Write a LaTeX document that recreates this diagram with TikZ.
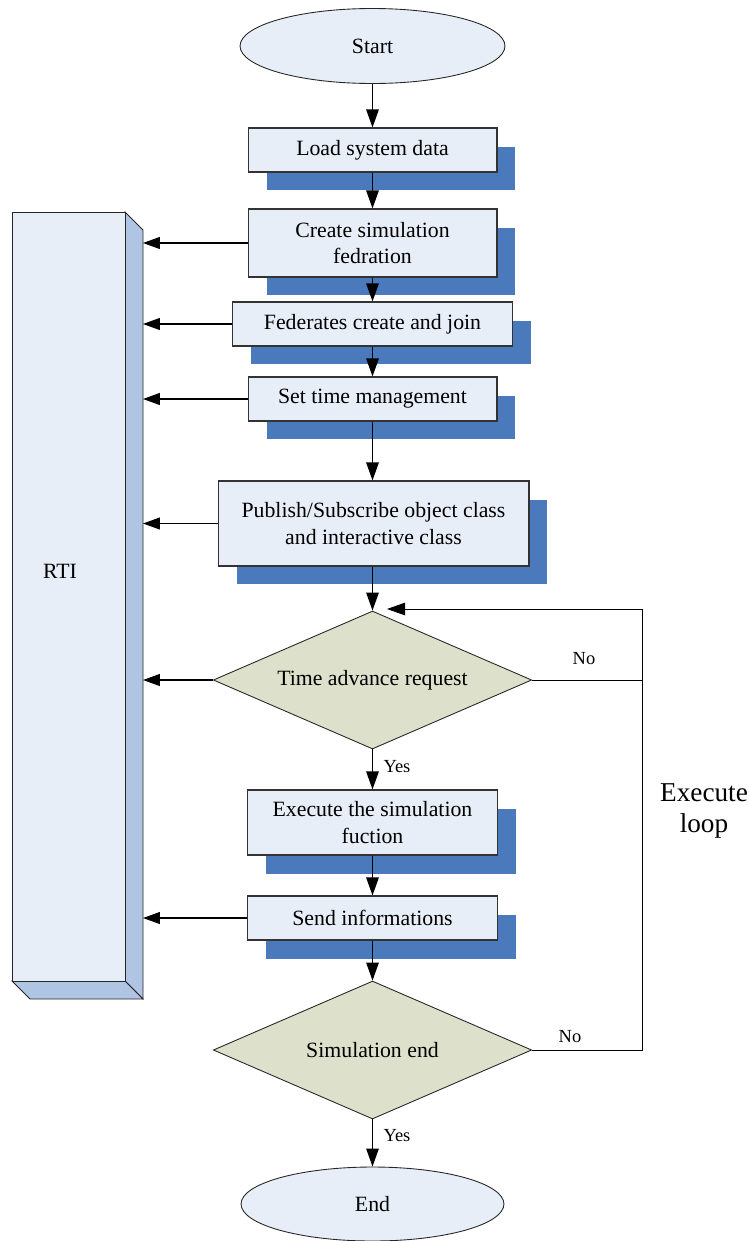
\documentclass[tikz,border=0pt]{standalone}
\usepackage{fontspec}
\setmainfont{Liberation Serif}
\usepackage{xcolor}
\usepackage{tikz}
\usetikzlibrary{positioning,calc,shapes.geometric,shadows,arrows.meta}

\definecolor{boxfill}{HTML}{E8EEF7}
\definecolor{shadowblue}{HTML}{4A7ABC}
\definecolor{diamfill}{HTML}{DDE1CB}
\definecolor{rtiside}{HTML}{B0C5E4}

\tikzset{
  every node/.style={font=\fontsize{12.4}{15}\selectfont},
  proc/.style={rectangle, draw=black!80, line width=0.6pt, fill=boxfill,
    align=center, inner sep=0pt,
    general shadow={fill=shadowblue, shadow xshift=0.37cm, shadow yshift=-0.37cm}},
  term/.style={ellipse, draw=black!85, line width=0.5pt, fill=boxfill,
    minimum width=5.3cm, minimum height=1.5cm, inner sep=0pt},
  test/.style={diamond, draw=black!85, line width=0.5pt, fill=diamfill,
    shape aspect=2.3, minimum width=6.37cm, minimum height=2.76cm, inner sep=0pt},
  arr/.style={line width=0.7pt, -{Triangle[length=0.36cm,width=0.25cm]}},
  side/.style={arr, -{Triangle[length=0.34cm,width=0.24cm]}},
  small/.style={font=\fontsize{10.5}{12}\selectfont},
}

\begin{document}
\begin{tikzpicture}[x=0.02cm, y=-0.02cm]
    \useasboundingbox (0,0) rectangle (748,1241);

    % RTI block
    \filldraw[fill=rtiside, draw=black!85, line width=0.5pt]
      (125,212) -- (143,230) -- (143,999) -- (125,981) -- cycle;
    \filldraw[fill=rtiside, draw=black!85, line width=0.5pt]
      (12,981) -- (30,999) -- (143,999) -- (125,981) -- cycle;
    \filldraw[fill=boxfill, draw=black!85, line width=0.5pt]
      (12,212) rectangle (125,981);
    \node (rti) at (60,571) {RTI};
    \coordinate (r) at (143,600);

    % flow
    \node[term] (s) at (372.5,46) {Start};
    \node[proc, minimum width=4.98cm, minimum height=0.88cm] (b1) at (372.5,150) {Load system data};
    \node[proc, minimum width=4.98cm, minimum height=1.36cm] (b2) at (372.5,243) {Create simulation\\fedration};
    \node[proc, minimum width=5.6cm, minimum height=0.88cm] (b3) at (372.5,324) {Federates create and join};
    \node[proc, minimum width=4.98cm, minimum height=0.88cm] (b4) at (372.5,399) {Set time management};
    \node[proc, minimum width=6.22cm, minimum height=1.7cm] (b5) at (373.5,523.5) {Publish/Subscribe object class\\and interactive class};
    \node[test] (d1) at (372.5,680) {Time advance request};
    \node[proc, minimum width=5cm, minimum height=1.3cm] (b6) at (372.5,822.5) {Execute the simulation\\fuction};
    \node[proc, minimum width=5cm, minimum height=0.88cm] (b7) at (372.5,918) {Send informations};
    \node[test] (d2) at (372.5,1050) {Simulation end};
    \node[term, minimum width=5.26cm, minimum height=1.48cm] (e) at (372.5,1204) {End};

    \draw[arr] (s) -- (b1);
    \draw[arr] (b1) -- (b2);
    \draw[arr] (b2) -- (b3);
    \draw[arr] (b3) -- (b4);
    \draw[arr] (b4) -- (b4.south |- b5.north);
    \draw[arr] (b5.south -| d1) -- (d1);
    \draw[arr] (d1) -- (b6);
    \draw[arr] (b6) -- (b7);
    \draw[arr] (b7) -- (d2);
    \draw[arr] (d2) -- (e);

    \node[small] (y1) at (397,767) {Yes};
    \node[small] (y2) at (397,1136) {Yes};

    % to RTI
    \foreach \b in {b2,b3,b4,b5,d1,b7}
      \draw[side] (\b.west) -- (\b.west -| r);

    % loop back
    \coordinate (lp) at (642,609);
    \coordinate (lt) at (387,609);
    \draw[arr, line width=0.5pt] (d2.east) -| (lp) -- (lt);
    \draw[line width=0.5pt] (d1.east) -- (d1.east -| lp);
    \node[small] (n1) at (584,659) {No};
    \node[small] (n2) at (570,1037) {No};
    \node[font=\fontsize{15.5}{17.6}\selectfont, align=center] (lbl) at (704,811) {Execute\\loop};
  \end{tikzpicture}
\end{document}
